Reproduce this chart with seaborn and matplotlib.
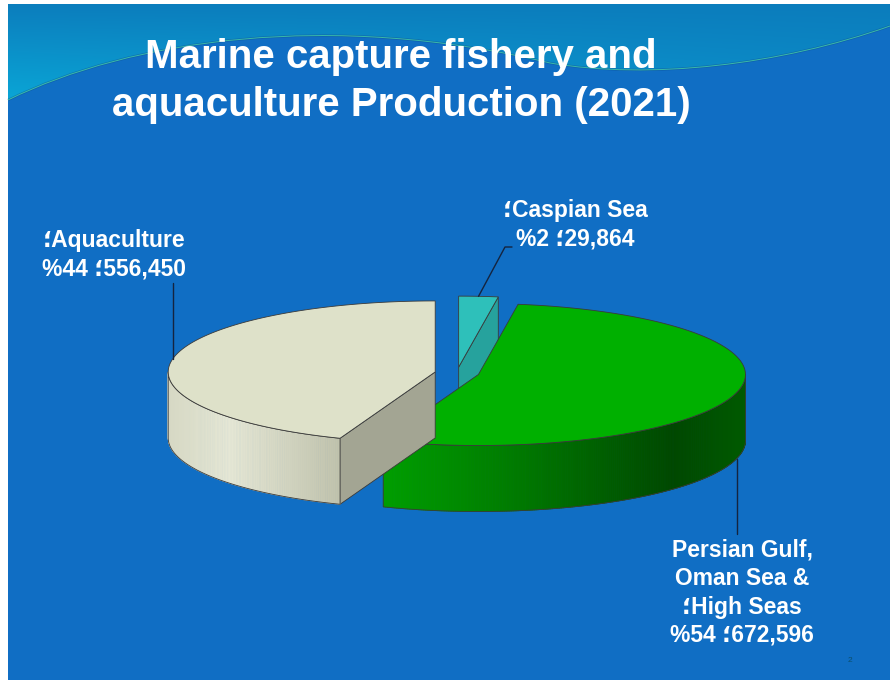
import numpy as np
import matplotlib
matplotlib.use("Agg")
import matplotlib.pyplot as plt
from matplotlib.patches import Polygon, Rectangle, PathPatch
from matplotlib.path import Path
from matplotlib.colors import LinearSegmentedColormap, to_rgb
import seaborn as sns

# ---- data -------------------------------------------------------------
categories = ["Caspian Sea", "Persian Gulf, Oman Sea & High Seas", "Aquaculture"]
name_lines = [["Caspian Sea"], ["Persian Gulf,", "Oman Sea &", "High Seas"], ["Aquaculture"]]
production = [29864, 672596, 556450]
percent_labels = [2, 54, 44]
title_lines = ["Marine capture fishery and", "aquaculture Production (2021)"]

# ---- style --------------------------------------------------------------
sns.set_theme(style="white")
plt.rcParams["font.family"] = ["Liberation Sans", "DejaVu Sans"]

W, H = 890, 680
fig = plt.figure(figsize=(W / 100, H / 100), dpi=100, facecolor="white")
ax = fig.add_axes([0, 0, 1, 1])
ax.set_xlim(0, W)
ax.set_ylim(H, 0)
ax.axis("off")

# slide background
SLIDE_X0, SLIDE_Y0 = 8, 4
ax.add_patch(Rectangle((SLIDE_X0, SLIDE_Y0), W - SLIDE_X0, H - SLIDE_Y0,
                       facecolor="#106EC4", edgecolor="none", zorder=0))

# light wave across the top of the slide
verts = [(SLIDE_X0, 100), (130, 40), (330, 10), (550, 63),
         (650, 80), (780, 65), (W, 26),
         (W, SLIDE_Y0), (SLIDE_X0, SLIDE_Y0), (SLIDE_X0, 100)]
codes = [Path.MOVETO, Path.CURVE4, Path.CURVE4, Path.CURVE4,
         Path.CURVE4, Path.CURVE4, Path.CURVE4,
         Path.LINETO, Path.LINETO, Path.CLOSEPOLY]
wave = Path(verts, codes)
wave_patch = PathPatch(wave, facecolor="none", edgecolor="none")
ax.add_patch(wave_patch)
gy, gx = np.mgrid[0:110, 0:W]
top_c = np.array(to_rgb("#0C7CBC"))
low_c = np.array(to_rgb("#0AA6D6"))
right_c = np.array(to_rgb("#0C8CC8"))
fy = np.clip(gy / 100.0, 0, 1)[..., None]
fx = np.clip(gx / W, 0, 1)[..., None]
grad = top_c * (1 - fy) + (low_c * (1 - fx) + right_c * fx) * fy
img = ax.imshow(grad, extent=(0, W, 110, 0), zorder=0.5, interpolation="bilinear")
img.set_clip_path(wave_patch)
ax.set_xlim(0, W)
ax.set_ylim(H, 0)
# thin highlight strokes following the wave edge
edge = Path(verts[:7], codes[:7])
ax.add_patch(PathPatch(edge, facecolor="none", edgecolor="#0B4E95", lw=1.6, alpha=0.5, zorder=0.6))
ax.add_patch(PathPatch(edge, facecolor="none", edgecolor="#47D0A8", lw=0.7, alpha=0.8, zorder=0.7))

# ---- exploded 3-D pie -------------------------------------------------------
total = float(sum(production))
spans = [360.0 * v / total for v in production]
starts = np.concatenate([[0.0], np.cumsum(spans)[:-1]])
RX, RY, DEPTH = 267, 71, 66
C0 = np.array([457.0, 373.0])
EXPLODE = 0.083
OUTLINE = "#3A3A3A"

top_colors = ["#2EC0BA", "#00B000", "#DEE1C9"]
cut_colors = ["#26A29D", "#007A00", "#A3A593"]
wall_stops = [
    [(0, "#229C97"), (1, "#1E8A86")],
    [(0, "#009E00"), (0.35, "#007C00"), (0.8, "#004800"), (1, "#005A00")],
    [(0, "#D6D8C4"), (0.35, "#E5E7D5"), (1, "#C0C2AC")],
]


def rim(c, th, dz=0.0):
    r = np.radians(th)
    return np.array([c[0] + RX * np.sin(r), c[1] - RY * np.cos(r) + dz])


def arc(c, t1, t2, dz=0.0, step=0.5):
    n = max(int(abs(t2 - t1) / step) + 1, 2)
    return np.array([rim(c, t, dz) for t in np.linspace(t1, t2, n)])


centers = []
for t1, sp in zip(starts, spans):
    mid = np.radians(t1 + sp / 2)
    centers.append(C0 + EXPLODE * np.array([RX * np.sin(mid), -RY * np.cos(mid)]))

# paint back slices first
order = sorted(range(len(production)), key=lambda k: centers[k][1])
for k in order:
    c = centers[k]
    t1, t2 = starts[k], starts[k] + spans[k]
    base = c + np.array([0, DEPTH])

    # radial cut faces that turn towards the viewer
    for th, normal in ((t1, t1 - 90), (t2, t2 + 90)):
        if np.cos(np.radians(normal)) < -0.02:
            p = rim(c, th)
            quad = [c, p, p + [0, DEPTH], base]
            ax.add_patch(Polygon(quad, closed=True, facecolor=cut_colors[k],
                                 edgecolor=OUTLINE, lw=0.6, zorder=2 + k * 0.01))

    # outer wall on the front half of the ellipse
    lo, hi = max(t1, 90), min(t2, 270)
    if hi > lo:
        cmap = LinearSegmentedColormap.from_list("wall%d" % k, wall_stops[k])
        angs = np.linspace(lo, hi, int((hi - lo) / 0.5) + 2)
        xs = [rim(c, t)[0] for t in angs]
        xmin, xmax = min(xs), max(xs)
        for a0, a1 in zip(angs[:-1], angs[1:]):
            p0, p1 = rim(c, a0), rim(c, a1)
            u = ((p0[0] + p1[0]) / 2 - xmin) / max(xmax - xmin, 1)
            col = cmap(u)
            ax.add_patch(Polygon([p0, p1, p1 + [0, DEPTH], p0 + [0, DEPTH]], closed=True,
                                 facecolor=col, edgecolor=col, lw=0.6, zorder=2 + k * 0.01))
        outline = np.vstack([arc(c, lo, hi), arc(c, hi, lo, DEPTH)])
        ax.add_patch(Polygon(outline, closed=True, facecolor="none",
                             edgecolor=OUTLINE, lw=0.6, zorder=2.001 + k * 0.01))

    # top face
    top = np.vstack([c, arc(c, t1, t2)])
    ax.add_patch(Polygon(top, closed=True, facecolor=top_colors[k],
                         edgecolor=OUTLINE, lw=0.6, zorder=2.002 + k * 0.01))

# ---- labels and leader lines ----------------------------------------------------
SEP = "\u061b"
label_anchor = [(575, 217), (742, 557), (114, 247)]  # centre x, first baseline
LINE_STEP = 28.3
LEADER = "#15243F"
for k in range(len(production)):
    lines = list(name_lines[k])
    lines[-1] = SEP + lines[-1]
    lines.append("%%%d %s%s" % (percent_labels[k], SEP, format(production[k], ",")))
    x0, y0 = label_anchor[k]
    for j, txt in enumerate(lines):
        ax.text(x0, y0 + j * LINE_STEP, txt, ha="center", va="baseline",
                fontsize=16.5, fontweight="bold", color="white", zorder=5)

mids = [starts[k] + spans[k] / 2 for k in range(len(production))]
# Caspian Sea: from the top rim up to the label
p = rim(centers[0], mids[0])
ax.plot([p[0], 505, 512], [p[1], 247, 247], color=LEADER, lw=1, zorder=4)
# Persian Gulf: from the bottom of the wall down to the label
p = rim(centers[1], mids[1], DEPTH)
ax.plot([p[0], p[0]], [p[1], 534], color=LEADER, lw=1, zorder=4)
# Aquaculture: from the rim up to the label
p = rim(centers[2], mids[2])
ax.plot([p[0], p[0]], [p[1], 283], color=LEADER, lw=1, zorder=4)

# ---- title -----------------------------------------------------------------------
for j, (txt, base_y) in enumerate(zip(title_lines, (68, 116))):
    ax.text(401, base_y, txt, ha="center", va="baseline", fontsize=29,
            fontweight="bold", color="white", zorder=5)

ax.text(850, 662, "2", ha="center", va="baseline", fontsize=6, color="#0B4F6C", zorder=5)

fig.savefig("out.png", dpi=100, facecolor="white")
